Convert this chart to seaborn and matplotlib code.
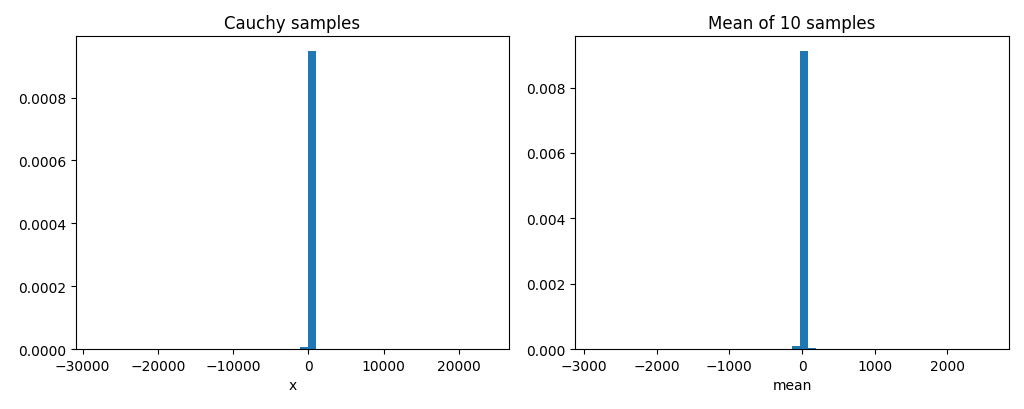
import numpy as np
import pandas as pd
import seaborn as sns
import matplotlib.pyplot as plt

# histogram: 50 bins, counts per bin (out of ~10000)
cauchy_range = (-28284, 24034)
cauchy_bins = [0, 10, 18, 24, 25, 26, 27, 28, 29, 31, 38, 49]
cauchy_counts = [1, 1, 1, 2, 3, 73, 9913, 3, 2, 1, 1, 1]

mean_range = (-2844, 2570)
mean_bins = [0, 8, 17, 23, 24, 25, 26, 27, 28, 30, 36, 49]
mean_counts = [1, 1, 1, 2, 5, 90, 9860, 25, 6, 2, 1, 1]

n_bins = 50


def centers(rng, idx):
    w = (rng[1] - rng[0]) / n_bins
    return [rng[0] + (i + 0.5) * w for i in idx]


d1 = pd.DataFrame({"x": centers(cauchy_range, cauchy_bins), "w": cauchy_counts})
d2 = pd.DataFrame({"mean": centers(mean_range, mean_bins), "w": mean_counts})

fig = plt.figure(figsize=(10.24, 4.1), dpi=100)
ax1 = fig.add_axes([0.074, 0.146, 0.423, 0.763])
ax2 = fig.add_axes([0.562, 0.146, 0.423, 0.763])

sns.histplot(data=d1, x="x", weights="w", bins=n_bins, binrange=cauchy_range,
             stat="density", color="#1f77b4", alpha=1, linewidth=0, ax=ax1)
sns.histplot(data=d2, x="mean", weights="w", bins=n_bins, binrange=mean_range,
             stat="density", color="#1f77b4", alpha=1, linewidth=0, ax=ax2)

ax1.set_title("Cauchy samples")
ax2.set_title("Mean of 10 samples")
ax1.set_ylabel("")
ax2.set_ylabel("")

fig.savefig("out.png", dpi=100)
